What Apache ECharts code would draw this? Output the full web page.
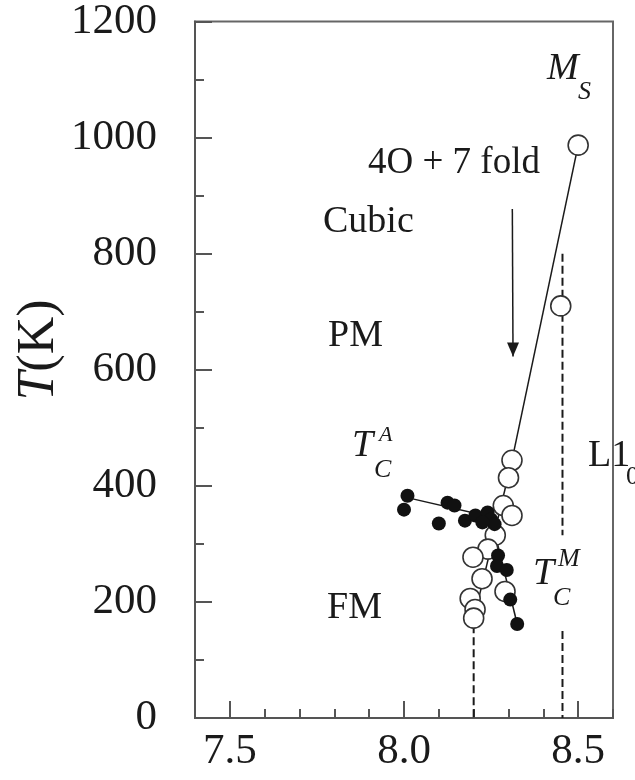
<!DOCTYPE html>
<html>
<head>
<meta charset="utf-8">
<script src="https://cdn.jsdelivr.net/npm/echarts@6/dist/echarts.min.js"></script>
<style>
  html, body { margin: 0; padding: 0; background: #fff; }
  #chart { width: 635px; height: 780px; }
</style>
</head>
<body>
<div id="chart"></div>
<script>
// ticks
var xMajor = [7.5, 8.0, 8.5];
var xMinor = [7.4, 7.6, 7.7, 7.8, 7.9, 8.1, 8.2, 8.3, 8.4, 8.6];

// open circles (x, T)
var openX = [8.50, 8.45, 8.31, 8.30, 8.285, 8.31, 8.262, 8.241, 8.198, 8.224, 8.19, 8.204, 8.20, 8.29];
var openT = [987, 710, 444, 414, 366, 349, 315, 291, 277, 240, 206, 187, 172, 218];

// filled circles
var fillX = [8.01, 8.00, 8.125, 8.145, 8.10, 8.175, 8.205, 8.24, 8.25, 8.26, 8.225, 8.27, 8.267, 8.295, 8.305, 8.325];
var fillT = [383, 359, 371, 366, 335, 340, 349, 354, 342, 334, 337, 280, 262, 255, 204, 162];

// guide lines
var msLine = [[8.31, 444], [8.50, 987]];
var tcaLine = [[8.00, 381], [8.26, 345]];
var openLine = [[8.31, 444], [8.20, 170]];
var tcmLine = [[8.25, 345], [8.325, 162]];
var dash1 = [[8.20, 160], [8.20, 0]];
var dash2a = [[8.455, 800], [8.455, 315]];
var dash2b = [[8.455, 150], [8.455, 0]];
var arrow = [[8.311, 877], [8.313, 623]];

function zip(xs, ys) {
    var out = [];
    for (var i = 0; i < xs.length; i++) out.push([xs[i], ys[i]]);
    return out;
}

var serif = '"Liberation Serif", "DejaVu Serif", serif';
var ink = '#1a1a1a';

function lineSeries(data, type) {
    return {
        type: 'line', data: data, symbol: 'none', silent: true,
        lineStyle: { color: ink, width: type === 'dashed' ? 2 : 1.5, type: type || 'solid' },
        z: 1
    };
}

function txt(s, x, y, size, italic) {
    return {
        type: 'text', left: x, top: y - size * 0.6,
        style: { text: s, font: (italic ? 'italic ' : '') + size + 'px ' + serif, fill: ink }
    };
}

var chart = echarts.init(document.getElementById('chart'));
var option = {
    backgroundColor: '#fff',
    animation: false,
    grid: { left: 195, right: 22, top: 13, bottom: 62, show: true, borderColor: '#666', borderWidth: 2 },
    xAxis: [{
        type: 'value', min: 7.4, max: 8.6,
        axisLine: { show: true, lineStyle: { color: '#555', width: 2 } },
        axisTick: { show: true, inside: true, length: 17, customValues: xMajor, lineStyle: { color: '#555', width: 2 } },
        axisLabel: { customValues: xMajor, margin: 12, fontSize: 43, fontFamily: serif, color: ink,
            formatter: function (v) { return v.toFixed(1); } },
        splitLine: { show: false }
    }, {
        type: 'value', min: 7.4, max: 8.6, position: 'bottom',
        axisLine: { show: false },
        axisTick: { show: true, inside: true, length: 9, customValues: xMinor, lineStyle: { color: '#555', width: 2 } },
        axisLabel: { show: false },
        splitLine: { show: false }
    }],
    yAxis: {
        type: 'value', min: 0, max: 1200, interval: 200,
        axisLine: { show: true, lineStyle: { color: '#555', width: 2 } },
        axisTick: { show: true, inside: true, length: 17, lineStyle: { color: '#555', width: 2 } },
        minorTick: { show: true, splitNumber: 2, length: 9, lineStyle: { color: '#555', width: 2 } },
        axisLabel: { margin: 38, fontSize: 43, fontFamily: serif, color: ink,
            formatter: function (v) { return String(v); } },
        splitLine: { show: false }
    },
    series: [
        lineSeries(msLine),
        lineSeries(tcaLine),
        lineSeries(openLine),
        lineSeries(tcmLine),
        lineSeries(dash1, 'dashed'),
        lineSeries(dash2a, 'dashed'),
        lineSeries(dash2b, 'dashed'),
        {
            type: 'line', silent: true, z: 1,
            lineStyle: { color: ink, width: 1.5 },
            data: [
                { value: arrow[0], symbol: 'none' },
                { value: arrow[1], symbol: 'path://M0,0 L10,0 L5,12 Z', symbolSize: [12, 14], symbolOffset: [0, -7],
                  itemStyle: { color: ink } }
            ]
        },
        {
            type: 'scatter', data: zip(openX, openT), symbol: 'circle', symbolSize: 20, z: 3,
            itemStyle: { color: '#fff', borderColor: '#333', borderWidth: 1.6, opacity: 1 }
        },
        {
            type: 'scatter', data: zip(fillX, fillT), symbol: 'circle', symbolSize: 14, z: 4,
            itemStyle: { color: '#111', opacity: 1 }
        }
    ],
    graphic: [
        {
            type: 'text', x: 39, y: 350, rotation: Math.PI / 2,
            style: {
                text: '{i|T}(K)', font: '52px ' + serif, fill: ink, align: 'center', verticalAlign: 'middle',
                rich: { i: { fontStyle: 'italic', fontSize: 52, fontFamily: serif } }
            }
        },
        txt('4O + 7 fold', 368, 167, 37),
        txt('Cubic', 323, 226, 38),
        txt('PM', 328, 340, 38),
        txt('FM', 327, 612, 38),
        txt('L1', 588, 460, 38),
        txt('0', 626, 480, 26),
        txt('M', 547, 73, 38, true),
        txt('S', 578, 95, 26, true),
        txt('T', 352, 450, 38, true),
        txt('A', 379, 437, 22, true),
        txt('C', 374, 473, 26, true),
        txt('T', 533, 578, 38, true),
        txt('M', 558, 562, 26, true),
        txt('C', 553, 601, 26, true)
    ]
};
chart.setOption(option);
</script>
</body>
</html>
